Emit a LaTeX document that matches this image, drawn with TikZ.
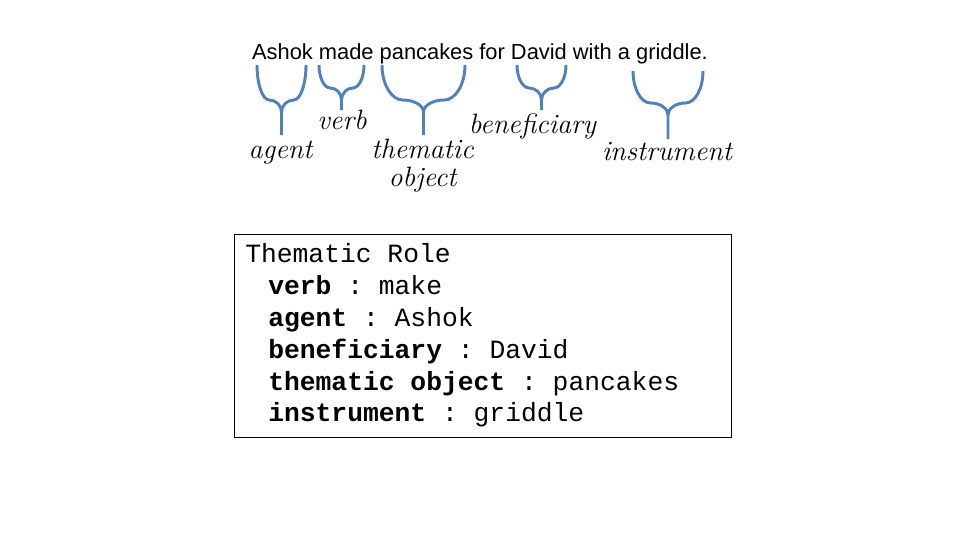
\documentclass[tikz,border=0pt]{standalone}
\usepackage{fontspec}
\setsansfont{Liberation Sans}
\setmonofont{Liberation Mono}
\usetikzlibrary{positioning}

\definecolor{braceblue}{RGB}{79,129,189}

% curly brace opening upwards: left, right, top, turn, bottom
\newcommand\rolebrace[5]{%
  \pgfmathsetmacro\braceM{(#1+#2)/2}%
  \pgfmathsetmacro\braceQ{(3*#1+#2)/4}%
  \pgfmathsetmacro\braceR{(#1+3*#2)/4}%
  \pgfmathsetmacro\braceJ{#4+12}%
  \draw[rolebrace] (#1,#3) .. controls (#1,{#3+0.55*(#4-#3)}) and ({\braceQ-0.55*(\braceQ-#1)},#4) .. (\braceQ,#4)
    .. controls ({\braceQ+0.55*(\braceM-\braceQ)},#4) and (\braceM,{\braceJ-6.6}) .. (\braceM,\braceJ) -- (\braceM,#5);
  \draw[rolebrace] (#2,#3) .. controls (#2,{#3+0.55*(#4-#3)}) and ({\braceR+0.55*(#2-\braceR)},#4) .. (\braceR,#4)
    .. controls ({\braceR-0.55*(\braceR-\braceM)},#4) and (\braceM,{\braceJ-6.6}) .. (\braceM,\braceJ);
}

\begin{document}
\begin{tikzpicture}[x=0.75pt, y=-0.75pt,
    rolebrace/.style = {draw=braceblue, line width=2.2pt, line join=round},
    sentence/.style = {font=\sffamily\fontsize{16.4}{19}\selectfont, inner sep=0pt},
    role/.style = {font=\itshape\fontsize{21}{21.75}\selectfont, inner sep=0pt, anchor=base},
    roletext/.style = {font=\ttfamily\fontsize{19.75}{24}\selectfont, inner sep=0pt, anchor=base west},
    rolebox/.style = {draw, line width=0.75pt, minimum width=372.75pt, minimum height=152.25pt, inner sep=0pt}]
  \useasboundingbox (0,0) rectangle (960,540);

  \node[sentence, anchor=base] (text) at (480,59) {Ashok made pancakes for David with a griddle.};

  \rolebrace{257}{306}{65}{100}{135}
  \rolebrace{319}{364}{65}{88}{110}
  \rolebrace{382}{465}{65}{100}{135}
  \rolebrace{517}{566}{65}{88}{110}
  \rolebrace{633}{703}{71}{103}{139}

  \node[role] (agent) at (280.5,158) {agent};
  \node[role] (verb) at (342,129) {verb};
  \node[role] (theme) at (422.5,158) {thematic};
  \node[role] (object) at (422.5,186) {object};
  \node[role] (benef) at (532.5,133) {beneficiary};
  \node[role] (instr) at (667,160) {instrument};

  \node[rolebox] (frame) at (482.5,335.5) {};
  \node[roletext] (title) at (245,262) {Thematic Role};
  \node[roletext] (verbrow) at (268,294) {\textbf{verb} : make};
  \node[roletext] (agentrow) at (268,326.5) {\textbf{agent} : Ashok};
  \node[roletext] (benefrow) at (268,358) {\textbf{beneficiary} : David};
  \node[roletext] (themerow) at (268,390) {\textbf{thematic object} : pancakes};
  \node[roletext] (instrrow) at (268,421.5) {\textbf{instrument} : griddle};
\end{tikzpicture}
\end{document}
